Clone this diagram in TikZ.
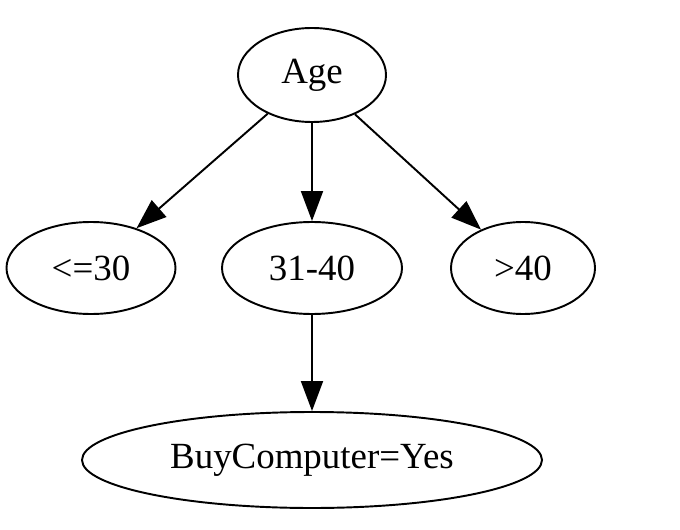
\documentclass[tikz,border=0pt]{standalone}
\usepackage{fontspec}
\setmainfont{Liberation Serif}
\usetikzlibrary{shapes.geometric,arrows.meta}

\begin{document}
\begin{tikzpicture}[line width=1.1pt,
  oval/.style={ellipse, draw, inner sep=0pt, minimum height=1.84cm, font=\fontsize{21}{25}\selectfont},
  edge/.style={-{Triangle[length=0.6cm,width=0.44cm]}}]
\useasboundingbox (0,0) rectangle (13.6,-10.6);
\node[oval, minimum width=2.96cm, minimum height=1.88cm] (age) at (6.24,-1.5) {Age};
\node[oval, minimum width=3.38cm] (young) at (1.82,-5.36) {<=30};
\node[oval, minimum width=3.6cm] (mid) at (6.24,-5.36) {31-40};
\node[oval, minimum width=2.88cm] (old) at (10.46,-5.36) {>40};
\node[oval, minimum width=9.2cm, minimum height=1.92cm] (buy) at (6.24,-9.2) {BuyComputer=Yes};

\draw[edge] (age)--(young);
\draw[edge] (age)--(mid);
\draw[edge] (age)--(old);
\draw[edge] (mid)--(buy);
\end{tikzpicture}
\end{document}
